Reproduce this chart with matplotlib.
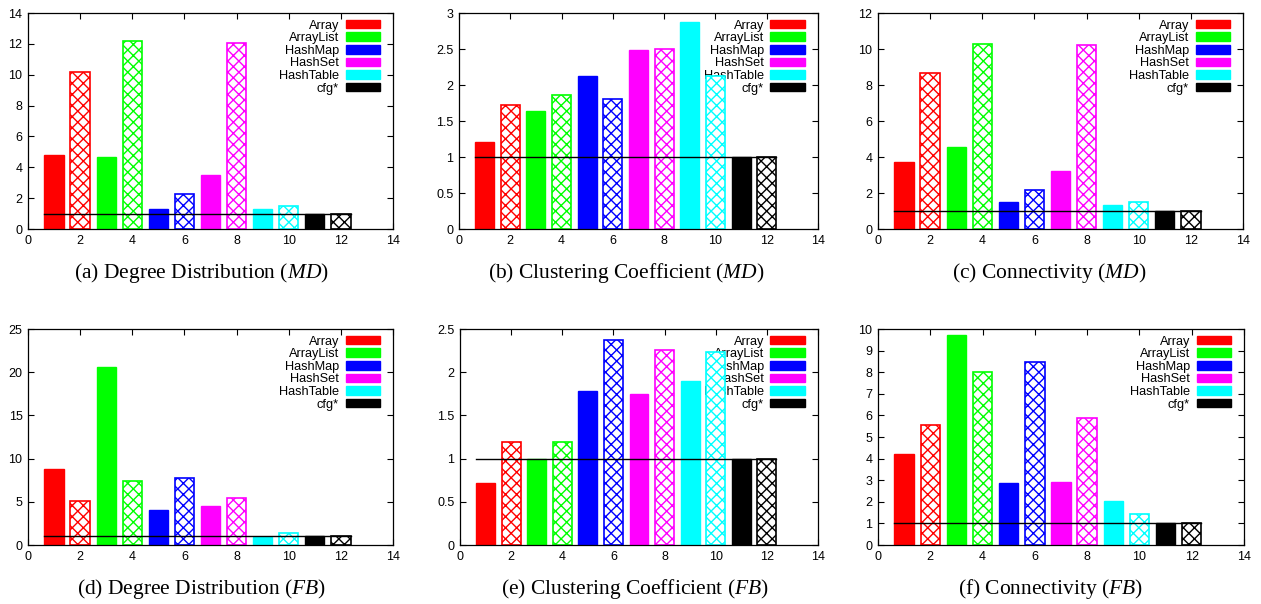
import matplotlib
matplotlib.use("Agg")
import matplotlib.pyplot as plt
import matplotlib.ticker as ticker
from matplotlib.patches import Patch

plt.rcParams["font.family"] = ["Liberation Sans", "DejaVu Sans"]
plt.rcParams["mathtext.fontset"] = "custom"
plt.rcParams["mathtext.rm"] = "Liberation Serif"
plt.rcParams["mathtext.it"] = "Liberation Serif:italic"
plt.rcParams["hatch.linewidth"] = 1.0

# ── Data ──────────────────────────────────────────────────────────────

positions = [1, 2, 3, 4, 5, 6, 7, 8, 9, 10, 11, 12]
series = ["Array", "ArrayList", "HashMap", "HashSet", "HashTable", "cfg*"]
colors = ["#ff0000", "#00ff00", "#0000ff", "#ff00ff", "#00ffff", "#000000"]

degree_md = [4.8, 10.15, 4.65, 12.2, 1.3, 2.3, 3.5, 12.05, 1.3, 1.5, 1.0, 1.0]
cluster_md = [1.21, 1.72, 1.64, 1.855, 2.12, 1.81, 2.49, 2.50, 2.87, 2.13, 1.0, 1.0]
connect_md = [3.75, 8.65, 4.53, 10.3, 1.48, 2.15, 3.22, 10.23, 1.33, 1.5, 1.0, 1.0]
degree_fb = [8.8, 5.15, 20.6, 7.4, 4.0, 7.8, 4.5, 5.4, 0.97, 1.38, 1.0, 1.0]
cluster_fb = [0.72, 1.19, 1.0, 1.195, 1.78, 2.37, 1.75, 2.26, 1.90, 2.23, 1.0, 1.0]
connect_fb = [4.2, 5.55, 9.7, 8.0, 2.85, 8.48, 2.9, 5.87, 2.02, 1.42, 1.0, 1.0]

panels = [
    (degree_md, 14, 2, "(a) Degree Distribution ($MD$)"),
    (cluster_md, 3, 0.5, "(b) Clustering Coefficient ($MD$)"),
    (connect_md, 12, 2, "(c) Connectivity ($MD$)"),
    (degree_fb, 25, 5, "(d) Degree Distribution ($FB$)"),
    (cluster_fb, 2.5, 0.5, "(e) Clustering Coefficient ($FB$)"),
    (connect_fb, 10, 1, "(f) Connectivity ($FB$)"),
]

# ── Layout (pixel boxes: left, right, top, bottom) ───────────────────

W, H = 1261, 604
boxes = [
    (28, 393, 13, 229), (459, 818, 13, 229), (878, 1243, 13, 229),
    (28, 393, 329, 545), (460, 818, 329, 545), (878, 1244, 329, 545),
]
caption_x = [201, 626, 1049, 201, 635, 1050]
caption_y = [278, 278, 278, 594, 594, 594]

fig = plt.figure(figsize=(W / 100, H / 100), dpi=100)

width = 0.74
for i, (vals, ymax, ystep, caption) in enumerate(panels):
    l, r, t, b = boxes[i]
    ax = fig.add_axes([l / W, 1 - b / H, (r - l) / W, (b - t) / H])

    for j, (x, v) in enumerate(zip(positions, vals)):
        c = colors[j // 2]
        if j % 2 == 0:
            ax.bar(x, v, width, color=c, edgecolor=c, linewidth=1, zorder=2)
        else:
            ax.bar(x, v, width, facecolor="white", edgecolor=c, hatch="xxx",
                   linewidth=1.2, zorder=2)

    # reference level y = 1
    ax.plot([positions[0] - width / 2, positions[-1] + width / 2], [1, 1],
            color="black", linewidth=1, zorder=3)

    ax.set_xlim(0, 14)
    ax.set_ylim(0, ymax)
    ax.xaxis.set_major_locator(ticker.MultipleLocator(2))
    ax.yaxis.set_major_locator(ticker.MultipleLocator(ystep))
    ax.yaxis.set_major_formatter(ticker.FormatStrFormatter("%g"))
    ax.tick_params(direction="in", length=4, width=0.8, labelsize=9,
                   top=True, right=True, pad=4)
    for s in ax.spines.values():
        s.set_linewidth(0.9)

    handles = [Patch(facecolor=c, edgecolor=c) for c in colors]
    leg = ax.legend(handles, series, loc="upper right",
                    bbox_to_anchor=(1 - 13 / (r - l), 1 - 6.5 / (b - t)),
                    frameon=False, markerfirst=False, fontsize=9.2,
                    handlelength=2.7, handleheight=0.65, handletextpad=0.5,
                    labelspacing=0.05, borderpad=0, borderaxespad=0)
    leg.set_zorder(1)

    fig.text(caption_x[i] / W, 1 - caption_y[i] / H, caption, ha="center",
             va="baseline", fontsize=15.5, family="Liberation Serif")

fig.savefig("out.png", dpi=100)
